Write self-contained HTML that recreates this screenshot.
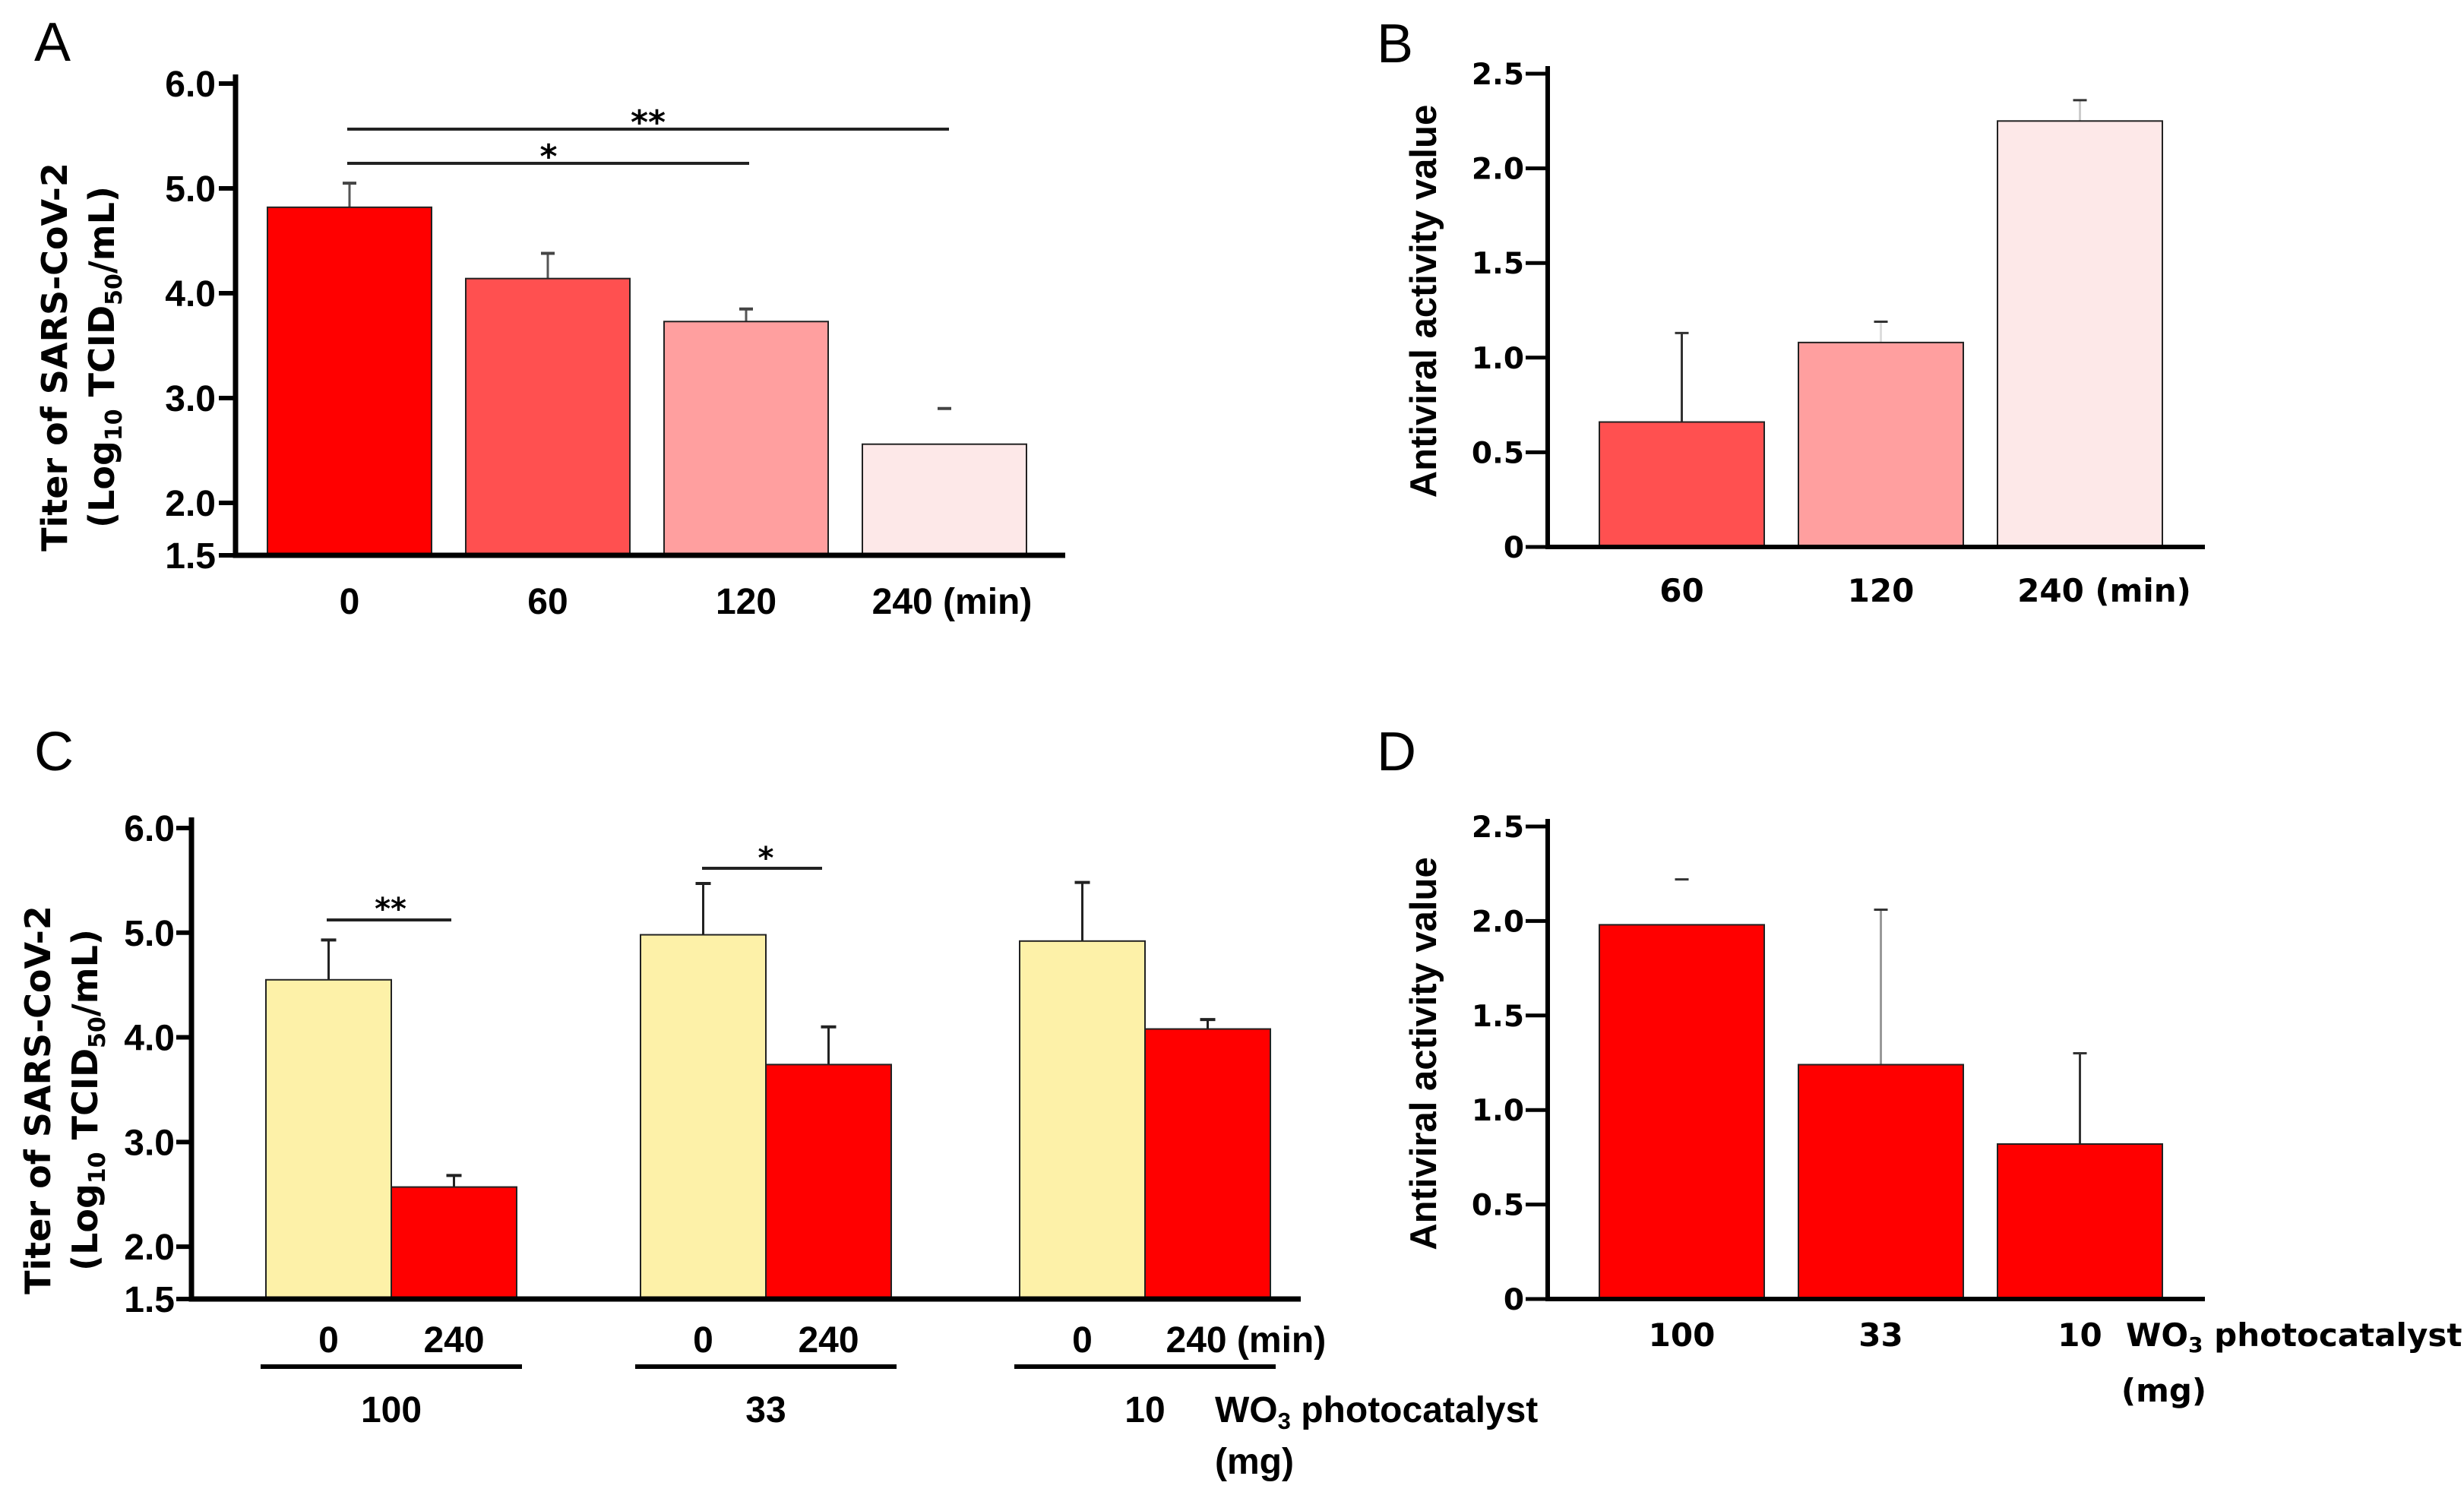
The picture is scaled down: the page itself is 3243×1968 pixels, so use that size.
<!DOCTYPE html>
<html><head><meta charset="utf-8"><style>
html,body{margin:0;padding:0;background:#fff}
svg{display:block}
.cond{font-family:"Liberation Sans Narrow","Liberation Sans",sans-serif;font-weight:bold}
.wide{font-family:"DejaVu Sans",sans-serif;font-weight:bold}
</style></head><body>
<svg id="fig" width="3243" height="1968" viewBox="0 0 3243 1968" xmlns="http://www.w3.org/2000/svg">
<text x="45" y="80" font-family="Liberation Sans, sans-serif" font-size="72">A</text>
<text x="1812" y="82" font-family="Liberation Sans, sans-serif" font-size="72">B</text>
<text x="45" y="1014" font-family="Liberation Sans, sans-serif" font-size="72">C</text>
<text x="1812" y="1014" font-family="Liberation Sans, sans-serif" font-size="72">D</text>
<g id="gA"></g>
<g id="gB"></g>
<g id="gC"></g>
<g id="gD"></g>
</svg>
<script>
// Panel A data
const aCategories = ["0","60","120","240 (min)"];
const aValues = [4.82, 4.14, 3.73, 2.56];
const aErrors = [5.05, 4.38, 3.85, 2.90];
const aTicks = [6.0,5.0,4.0,3.0,2.0,1.5];
const aTickLabels = ["6.0","5.0","4.0","3.0","2.0","1.5"];
const aColors = ["#ff0000","#ff5050","#ff9f9f","#fde8e8"];
// Panel B data
const bCategories = ["60","120","240 (min)"];
const bValues = [0.66, 1.08, 2.25];
const bErrors = [1.13, 1.19, 2.36];
const bTicks = [0,0.5,1.0,1.5,2.0,2.5];
const bTickLabels = ["0","0.5","1.0","1.5","2.0","2.5"];
const bColors = ["#ff5050","#ff9f9f","#fde8e8"];
// Panel C data
const cGroups = ["100","33","10"];
const cTimes = ["0","240"];
const cValues0 = [4.55, 4.98, 4.92];
const cErrors0 = [4.93, 5.47, 5.48];
const cValues240 = [2.57, 3.74, 4.08];
const cErrors240 = [2.68, 4.10, 4.17];
// Panel D data
const dCategories = ["100","33","10"];
const dValues = [1.98, 1.24, 0.82];
const dErrors = [2.22, 2.06, 1.30];

const NS = "http://www.w3.org/2000/svg";
function mk(parent, tag, attrs, text){
  const e = document.createElementNS(NS, tag);
  for (const k in attrs) e.setAttribute(k, attrs[k]);
  if (text !== undefined) e.textContent = text;
  parent.appendChild(e);
  return e;
}
function lin(d0,d1,r0,r1){ return v => r0 + (v-d0)/(d1-d0)*(r1-r0); }

// ---------- Panel A ----------
(function(){
  const g = document.getElementById('gA');
  const y = lin(1.5, 6.0, 731, 110);
  const x0 = 352, step = 261, bw = 216;
  aTicks.forEach((t,i)=>{
    const tk = mk(g,'line',{x1:288,x2:312,y1:y(t),y2:y(t),stroke:'#000','stroke-width':6});
    
    
    const tl = mk(g,'text',{x:284,y:y(t)+17,'text-anchor':'end','font-size':48,class:'cond'},aTickLabels[i]);
    
    
  });
  aValues.forEach((v,i)=>{
    const bx = x0 + i*step, cx = bx + bw/2;
    const eb = mk(g,'line',{x1:cx,x2:cx,y1:y(v),y2:y(aErrors[i]),stroke:i==3?'#fff':'#555','stroke-width':3});
    
    
    const cap = mk(g,'line',{x1:cx-9,x2:cx+9,y1:y(aErrors[i]),y2:y(aErrors[i]),stroke:'#444','stroke-width':4});
    
    
    const r = mk(g,'rect',{x:bx,y:y(v),width:bw,height:y(1.5)-y(v),fill:aColors[i],stroke:'#222','stroke-width':2});
    
    
    const tl = mk(g,'text',{x:cx+(i==3?10:0),y:808,'text-anchor':'middle','font-size':48,class:'cond'},aCategories[i]);
    
    
  });
  const ax = mk(g,'path',{d:'M310 98 V731 H1402',fill:'none',stroke:'#000','stroke-width':7});
  
  
  const s1 = mk(g,'line',{x1:457,x2:1249,y1:170,y2:170,stroke:'#222','stroke-width':4});
  
  
  const t1 = mk(g,'text',{x:853,y:176,'text-anchor':'middle','font-size':44,class:'wide'},'**');
  
  
  const s2 = mk(g,'line',{x1:457,x2:986,y1:215,y2:215,stroke:'#222','stroke-width':4});
  
  
  const t2 = mk(g,'text',{x:722,y:221,'text-anchor':'middle','font-size':44,class:'wide'},'*');
  
  
  const yt = mk(g,'text',{transform:'translate(88,470) rotate(-90)','text-anchor':'middle','font-size':46,class:'wide'},'Titer of SARS-CoV-2');
  
  
  const yt2 = mk(g,'text',{transform:'translate(150,470) rotate(-90)','text-anchor':'middle','font-size':46,class:'wide'});
  yt2.innerHTML = '(Log<tspan font-size="30" dy="10">10</tspan><tspan dy="-10"> TCID</tspan><tspan font-size="30" dy="10">50</tspan><tspan dy="-10">/mL)</tspan>';
  
  
})();

// ---------- Antiviral panels (B, D) ----------
function antiviral(id, cats, vals, errs, colors, yTop, yBot, labelY, extra, stemColors){
  const g = document.getElementById(id);
  const y = lin(0, 2.5, yBot, yTop);
  const x0 = 2105, step = 262, bw = 217;
  bTicks.forEach((t,i)=>{
    const tk = mk(g,'line',{x1:2008,x2:2040,y1:y(t),y2:y(t),stroke:'#000','stroke-width':5});
    
    
    const tl = mk(g,'text',{x:2006,y:y(t)+14,'text-anchor':'end','font-size':39,class:'wide'},bTickLabels[i]);
    
    
  });
  vals.forEach((v,i)=>{
    const bx = x0 + i*step, cx = bx + bw/2;
    const eb = mk(g,'line',{x1:cx,x2:cx,y1:y(v),y2:y(errs[i]),stroke:stemColors[i],'stroke-width':3});
    
    
    const cap = mk(g,'line',{x1:cx-9,x2:cx+9,y1:y(errs[i]),y2:y(errs[i]),stroke:'#333','stroke-width':3});
    
    
    const r = mk(g,'rect',{x:bx,y:y(v),width:bw,height:yBot-y(v),fill:colors[i],stroke:'#222','stroke-width':2});
    
    
    const tl = mk(g,'text',{x:cx+(i==2&&!extra?32:0),y:labelY,'text-anchor':'middle','font-size':42,class:'wide'},cats[i]);
    
    
  });
  const ax = mk(g,'path',{d:`M2037 ${yTop-10} V${yBot} H2902`,fill:'none',stroke:'#000','stroke-width':6});
  
  
  const yt = mk(g,'text',{transform:`translate(1890,${(yTop+yBot)/2-12}) rotate(-90)`,'text-anchor':'middle','font-size':49,class:'cond'},'Antiviral activity value');
  
  
  return g;
}
antiviral('gB', bCategories, bValues, bErrors, bColors, 97, 720, 792, false, ['#333','#ddd','#ccc']);
(function(){
  const g = antiviral('gD', dCategories, dValues, dErrors, ["#ff0000","#ff0000","#ff0000"], 1088, 1710, 1772, true, ['#fff','#999','#333']);
  const t = mk(g,'text',{x:2798,y:1772,'font-size':42,class:'wide'});
  t.innerHTML = 'WO<tspan font-size="28" dy="8">3</tspan><tspan dy="-8"> photocatalyst</tspan>';
  
  
  const t2 = mk(g,'text',{x:2848,y:1845,'text-anchor':'middle','font-size':42,class:'wide'},'(mg)');
  
  
})();

// ---------- Panel C ----------
(function(){
  const g = document.getElementById('gC');
  const y = lin(1.5, 6.0, 1710, 1090);
  const gx = [350, 843, 1342], bw = 165;
  aTicks.forEach((t,i)=>{
    const tk = mk(g,'line',{x1:232,x2:254,y1:y(t),y2:y(t),stroke:'#000','stroke-width':6});
    
    
    const tl = mk(g,'text',{x:230,y:y(t)+17,'text-anchor':'end','font-size':48,class:'cond'},aTickLabels[i]);
    
    
  });
  cGroups.forEach((grp,i)=>{
    const pairs = [[cValues0[i],cErrors0[i],'#fdf1a8'],[cValues240[i],cErrors240[i],'#ff0000']];
    pairs.forEach((p,j)=>{
      const bx = gx[i] + j*bw, cx = bx + bw/2;
      const eb = mk(g,'line',{x1:cx,x2:cx,y1:y(p[0]),y2:y(p[1]),stroke:'#222','stroke-width':3});
      
      
      const cap = mk(g,'line',{x1:cx-10,x2:cx+10,y1:y(p[1]),y2:y(p[1]),stroke:'#222','stroke-width':4});
      
      
      const r = mk(g,'rect',{x:bx,y:y(p[0]),width:bw,height:y(1.5)-y(p[0]),fill:p[2],stroke:'#222','stroke-width':2});
      
      
      const lbl = (i==2&&j==1)?'240 (min)':cTimes[j];
      const tl = mk(g,'text',{x:(i==2&&j==1)?cx-55:cx,y:1780,'text-anchor':(i==2&&j==1)?'start':'middle','font-size':48,class:'cond'},lbl);
      
      
    });
    const ul = mk(g,'line',{x1:gx[i]-7,x2:gx[i]+2*bw+7,y1:1799,y2:1799,stroke:'#000','stroke-width':6});
    
    
    const gl = mk(g,'text',{x:gx[i]+bw,y:1872,'text-anchor':'middle','font-size':48,class:'cond'},grp);
    
    
  });
  const ax = mk(g,'path',{d:'M252 1076 V1710 H1712',fill:'none',stroke:'#000','stroke-width':7});
  
  
  const s1 = mk(g,'line',{x1:430,x2:594,y1:1211,y2:1211,stroke:'#222','stroke-width':4});
  
  
  const t1 = mk(g,'text',{x:514,y:1210,'text-anchor':'middle','font-size':40,class:'wide'},'**');
  
  
  const s2 = mk(g,'line',{x1:924,x2:1082,y1:1143,y2:1143,stroke:'#222','stroke-width':4});
  
  
  const t2 = mk(g,'text',{x:1008,y:1143,'text-anchor':'middle','font-size':40,class:'wide'},'*');
  
  
  const xt = mk(g,'text',{x:1599,y:1872,'font-size':48,class:'cond'});
  xt.innerHTML = 'WO<tspan font-size="31" dy="9">3</tspan><tspan dy="-9"> photocatalyst</tspan>';
  
  
  const xt2 = mk(g,'text',{x:1599,y:1940,'font-size':48,class:'cond'},'(mg)');
  
  
  const yt = mk(g,'text',{transform:'translate(66,1448) rotate(-90)','text-anchor':'middle','font-size':46,class:'wide'},'Titer of SARS-CoV-2');
  
  
  const yt2 = mk(g,'text',{transform:'translate(128,1448) rotate(-90)','text-anchor':'middle','font-size':46,class:'wide'});
  yt2.innerHTML = '(Log<tspan font-size="30" dy="10">10</tspan><tspan dy="-10"> TCID</tspan><tspan font-size="30" dy="10">50</tspan><tspan dy="-10">/mL)</tspan>';
  
  
})();
</script>
</body></html>
